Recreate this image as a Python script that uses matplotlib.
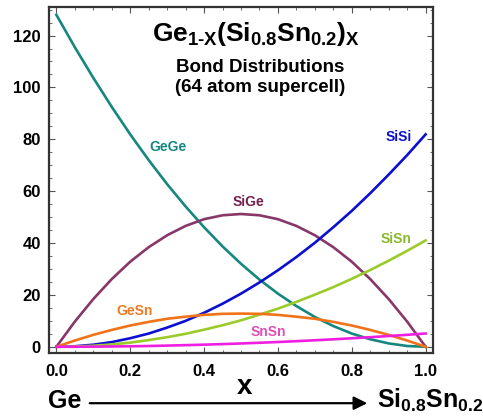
import matplotlib
matplotlib.use("Agg")
import matplotlib.pyplot as plt
from matplotlib.ticker import MultipleLocator

plt.rcParams['font.family'] = ['Liberation Sans', 'DejaVu Sans']
plt.rcParams['font.weight'] = 'bold'
plt.rcParams['mathtext.fontset'] = 'custom'
plt.rcParams['mathtext.rm'] = 'Liberation Sans:bold'
plt.rcParams['mathtext.it'] = 'Liberation Sans:bold'
plt.rcParams['mathtext.bf'] = 'Liberation Sans:bold'

# composition x and bond counts per 64 atom supercell
x = [0.0, 0.05, 0.1, 0.15, 0.2, 0.25, 0.3, 0.35, 0.4, 0.45, 0.5,
     0.55, 0.6, 0.65, 0.7, 0.75, 0.8, 0.85, 0.9, 0.95, 1.0]
gege = [128.0, 115.5, 103.7, 92.5, 81.9, 72.0, 62.7, 54.1, 46.1, 38.7, 32.0,
        25.9, 20.5, 15.7, 11.5, 8.0, 5.1, 2.9, 1.3, 0.3, 0.0]
sige = [0.0, 9.7, 18.4, 26.1, 32.8, 38.4, 43.0, 46.6, 49.2, 50.7, 51.2,
        50.7, 49.2, 46.6, 43.0, 38.4, 32.8, 26.1, 18.4, 9.7, 0.0]
sisi = [0.0, 0.2, 0.8, 1.8, 3.3, 5.1, 7.4, 10.0, 13.1, 16.6, 20.5,
        24.8, 29.5, 34.6, 40.1, 46.1, 52.4, 59.2, 66.4, 73.9, 81.9]
sisn = [0.0, 0.1, 0.4, 0.9, 1.6, 2.6, 3.7, 5.0, 6.6, 8.3, 10.2,
        12.4, 14.7, 17.3, 20.1, 23.0, 26.2, 29.6, 33.2, 37.0, 41.0]
gesn = [0.0, 2.4, 4.6, 6.5, 8.2, 9.6, 10.8, 11.6, 12.3, 12.7, 12.8,
        12.7, 12.3, 11.6, 10.8, 9.6, 8.2, 6.5, 4.6, 2.4, 0.0]
snsn = [0.0, 0.01, 0.05, 0.12, 0.2, 0.3, 0.46, 0.63, 0.82, 1.04, 1.28,
        1.55, 1.84, 2.16, 2.51, 2.88, 3.28, 3.7, 4.15, 4.62, 5.12]

fig = plt.figure(figsize=(4.83, 4.2), dpi=100)
ax = fig.add_axes([0.1014, 0.1595, 0.7951, 0.8238])

lw = 1.9
ax.plot(x, gege, color='#16877f', lw=lw)
ax.plot(x, sige, color='#883868', lw=lw)
ax.plot(x, sisi, color='#0c0fd0', lw=lw)
ax.plot(x, sisn, color='#9acb2a', lw=lw)
ax.plot(x, gesn, color='#f07318', lw=lw)
ax.plot(x, snsn, color='#ee1fe0', lw=lw)

# curve labels
lab = dict(fontsize=10, fontweight='bold', ha='center', va='center')
ax.text(0.303, 77, 'GeGe', color='#16877f', **lab)
ax.text(0.52, 56, 'SiGe', color='#74204f', **lab)
ax.text(0.928, 81, 'SiSi', color='#0c0fd0', **lab)
ax.text(0.92, 41.6, 'SiSn', color='#8ab82a', **lab)
ax.text(0.211, 13.8, 'GeSn', color='#ee7a22', **lab)
ax.text(0.574, 5.7, 'SnSn', color='#dd4fb8', **lab)

ax.set_xlim(-0.02, 1.02)
ax.set_ylim(-2.4, 131)
ax.xaxis.set_major_locator(MultipleLocator(0.2))
ax.xaxis.set_minor_locator(MultipleLocator(0.05))
ax.yaxis.set_major_locator(MultipleLocator(20))
ax.yaxis.set_minor_locator(MultipleLocator(5))
ax.xaxis.set_major_formatter(plt.FuncFormatter(lambda v, p: f'{v:.1f}'))
ax.tick_params(which='both', direction='in', top=True, right=True,
               color='#555555', labelsize=12)
ax.tick_params(which='major', length=4, width=0.8)
ax.tick_params(which='minor', length=2, width=0.6)
ax.tick_params(axis='x', pad=8)
ax.tick_params(axis='y', pad=6)
for s in ax.spines.values():
    s.set_linewidth(1.6)
    s.set_color('#333333')

# title block
fig.text(0.530, 0.920, r'$Ge_{1\text{-}X}(Si_{0.8}Sn_{0.2})_X$', fontsize=19,
         ha='center', va='center')
fig.text(0.538, 0.840, 'Bond Distributions', fontsize=13.5,
         fontweight='bold', ha='center', va='center')
fig.text(0.538, 0.792, '(64 atom supercell)', fontsize=13.5,
         fontweight='bold', ha='center', va='center')

# composition axis
fig.text(0.507, 0.078, 'x', fontsize=20, fontweight='bold',
         ha='center', va='center')
fig.text(0.133, 0.046, 'Ge', fontsize=18, fontweight='bold',
         ha='center', va='center')
fig.text(0.780, 0.046, r'$Si_{0.8}Sn_{0.2}$', fontsize=18,
         ha='left', va='center')
fig.add_artist(plt.Annotation('', xy=(0.766, 0.040), xytext=(0.180, 0.040),
                              xycoords='figure fraction',
                              arrowprops=dict(arrowstyle='-|>', lw=1.6,
                                              color='black',
                                              mutation_scale=20)))

fig.savefig('out.png', dpi=100)
